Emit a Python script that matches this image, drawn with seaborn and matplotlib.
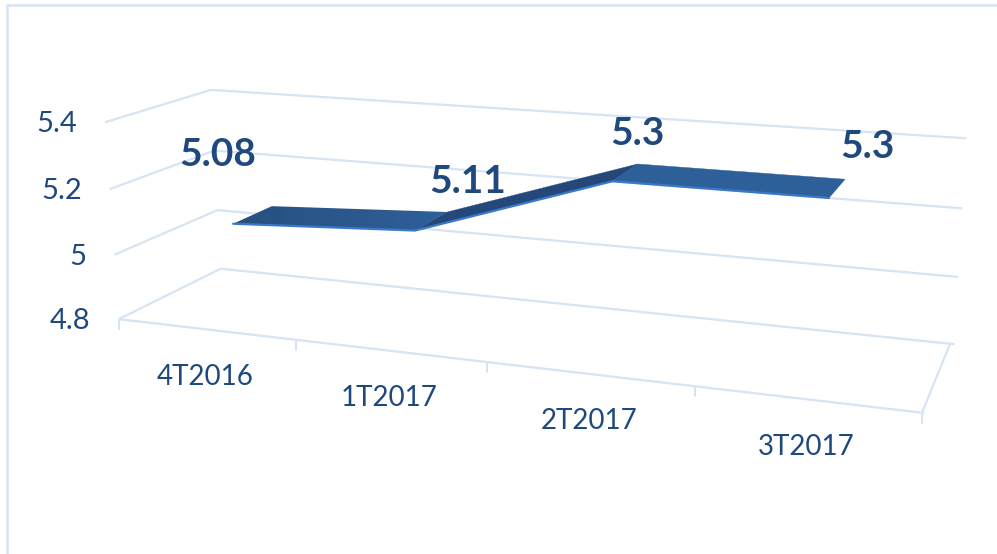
import numpy as np
import pandas as pd
import seaborn as sns
import matplotlib.pyplot as plt
from matplotlib.patches import Polygon
from matplotlib.colors import LinearSegmentedColormap

# --- DATA ---
quarters = ["4T2016", "1T2017", "2T2017", "3T2017"]
values = [5.08, 5.11, 5.3, 5.3]
value_ticks = [4.8, 5.0, 5.2, 5.4]
value_tick_labels = ["4.8", "5", "5.2", "5.4"]
value_labels = ["5.08", "5.11", "5.3", "5.3"]

# --- LOOK ---
GRID = "#d6e4f3"
TEXT = "#1f497d"
FRONT, BACK = 0.0, 1.0
RIBBON_FRONT, RIBBON_BACK = 0.29, 0.69
SLOT_CENTRE = 0.515
LABEL_SHIFT = [(-26, -64), (44, -44), (18, -43), (34, -46)]

# The chart is a perspective 3D line, so fit a camera to the box corners
# (slot, value, depth) -> (pixel x, pixel y)
BOX = [
    (0, 4.8, 0, 119, 318), (0, 4.8, 1, 220, 269), (4, 4.8, 0, 922, 412),
    (4, 4.8, 1, 951, 343), (0, 5.4, 0, 105, 122), (0, 5.4, 1, 211, 90),
    (4, 5.4, 1, 962, 138), (1, 4.8, 0, 296, 340), (2, 4.8, 0, 487, 364),
    (0, 5.0, 1, 218, 210), (4, 5.0, 1, 953, 277), (4, 5.2, 1, 958, 208),
]


def fit_camera(points):
    rows, rhs = [], []
    for x, y, z, u, v in points:
        rows.append([x, y, z, 1, 0, 0, 0, 0, -u * x, -u * y, -u * z])
        rows.append([0, 0, 0, 0, x, y, z, 1, -v * x, -v * y, -v * z])
        rhs += [u, v]
    sol = np.linalg.lstsq(np.array(rows, float), np.array(rhs, float), rcond=None)[0]
    return np.append(sol, 1.0).reshape(3, 4)


CAMERA = fit_camera(BOX)


def project(x, y, z):
    p = CAMERA @ np.array([x, y, z, 1.0])
    return p[0] / p[2], p[1] / p[2]


def main():
    sns.set_theme(style="white")
    plt.rcParams["font.family"] = ["Lato", "DejaVu Sans"]

    fig = plt.figure(figsize=(9.97, 5.54), dpi=100)
    ax = fig.add_axes([0, 0, 1, 1])

    def grid_line(a, b):
        pa, pb = project(*a), project(*b)
        ax.plot([pa[0], pb[0]], [pa[1], pb[1]], color=GRID, lw=1.6, zorder=1,
                solid_capstyle="butt")

    # outer chart frame
    ax.plot([7, 7, 997], [554, 5, 5], color=GRID, lw=1.8, zorder=1)

    # walls and floor
    for v in value_ticks:
        grid_line((0, v, FRONT), (0, v, BACK))
        grid_line((0, v, BACK), (4.02, v, BACK))
    grid_line((0, 4.8, FRONT), (4.01, 4.8, FRONT))
    grid_line((4, 4.8, FRONT), (4, 4.8, BACK))
    for i in range(len(quarters) + 1):
        px, py = project(i, 4.8, FRONT)
        ax.plot([px, px], [py, py + 10], color=GRID, lw=1.4, zorder=1)

    # ribbon top
    slots = [i + SLOT_CENTRE for i in range(len(quarters))]
    edge_f = [project(s, v, RIBBON_FRONT) for s, v in zip(slots, values)]
    edge_b = [project(s, v, RIBBON_BACK) for s, v in zip(slots, values)]

    # first segment has a soft left-to-right shading
    poly = Polygon([edge_f[0], edge_f[1], edge_b[1], edge_b[0]], closed=True,
                   transform=ax.transData, facecolor="none", edgecolor="none")
    ax.add_patch(poly)
    cmap = LinearSegmentedColormap.from_list("rib", ["#26507f", "#2f609a"])
    img = ax.imshow(np.linspace(0, 1, 64).reshape(1, -1), cmap=cmap, aspect="auto",
                    extent=(edge_f[0][0], edge_b[1][0] + 2, edge_f[1][1] + 2, edge_b[0][1] - 2),
                    zorder=3)
    img.set_clip_path(poly)

    ax.add_patch(Polygon([edge_f[1], edge_f[2], edge_b[2], edge_b[1]], closed=True,
                         facecolor="#25487a", edgecolor="#25487a", lw=0.3, zorder=3))
    ax.add_patch(Polygon([edge_f[2], edge_f[3], edge_b[3], edge_b[2]], closed=True,
                         facecolor="#2d5f99", edgecolor="#2d5f99", lw=0.3, zorder=3))

    # bright front edge of the ribbon
    front = pd.DataFrame({"px": [p[0] for p in edge_f], "py": [p[1] for p in edge_f]})
    sns.lineplot(data=front, x="px", y="py", sort=False, estimator=None, ax=ax,
                 color="#3a78c8", lw=1.6, zorder=4)

    # value axis labels
    for v, lab in zip(value_ticks, value_tick_labels):
        px, py = project(0, v, FRONT)
        ax.text(px - 28, py + 2, lab, color=TEXT, fontsize=21, ha="right", va="center")

    # category labels
    for s, lab in zip(slots, quarters):
        px, py = project(s, 4.8, FRONT)
        ax.text(px - 3, py + 47, lab, color=TEXT, fontsize=20, ha="center", va="center")

    # value labels
    for s, v, lab, shift in zip(slots, values, value_labels, LABEL_SHIFT):
        px, py = project(s, v, 0.4)
        ax.text(px + shift[0], py + shift[1], lab, color=TEXT, fontsize=28,
                fontweight="bold", ha="center", va="center", zorder=5)

    ax.set_xlim(0, 997)
    ax.set_ylim(554, 0)
    ax.set_axis_off()
    fig.savefig("out.png", dpi=100, facecolor="white")


if __name__ == "__main__":
    main()
